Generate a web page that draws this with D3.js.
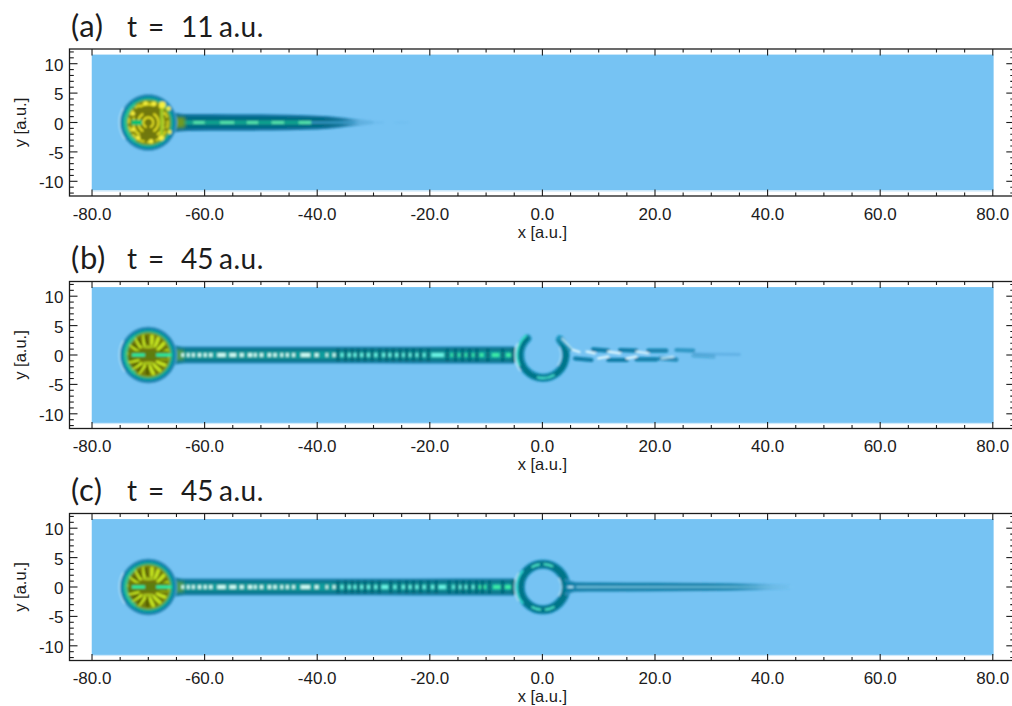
<!DOCTYPE html>
<html><head><meta charset="utf-8">
<script src="https://cdn.jsdelivr.net/npm/d3@7/dist/d3.min.js"></script>
<style>html,body{margin:0;padding:0;background:#fff;overflow:hidden}svg{display:block}</style>
</head><body><div id="c"></div>
<script>
// ---------- data (atomic units) ----------
const panelKeys = ["a","b","c"];
const panelLetters = ["(a)","(b)","(c)"];
const panelTimes = [["t ","= ","11 ","a.u."],["t ","= ","45 ","a.u."],["t ","= ","45 ","a.u."]];
const xMajor = [-80,-60,-40,-20,0,20,40,60,80];
const xLabels = ["-80.0","-60.0","-40.0","-20.0","0.0","20.0","40.0","60.0","80.0"];
const xMinor = [-75,-70,-65,-55,-50,-45,-35,-30,-25,-15,-10,-5,5,10,15,25,30,35,45,50,55,65,70,75];
const yMajor = [-10,-5,0,5,10];
const yMinor = [-12,-11,-9,-8,-7,-6,-4,-3,-2,-1,1,2,3,4,6,7,8,9,11,12];
// tail half widths
const tailAX = [-67.5,-66.5,-65.5,-64.5,-63,-55,-48,-42,-38,-36,-34,-32,-30];
const tailAW = [3.3,2.5,1.8,1.55,1.45,1.42,1.38,1.25,1.05,.9,.7,.5,.3];
const tailBX = [-67.5,-66.5,-65.5,-64.5,-63.5,-50,-30,-15,-5];
const tailBW = [3.3,2.5,1.8,1.55,1.45,1.45,1.45,1.5,1.5];
const tailCRX = [4,5,6,10,20,30,36,40,44];
const tailCRW = [1.5,1.05,.85,.8,.75,.66,.58,.5,.42];
// beads [x, width] on the tail
const beadsLeft = [[-63.9,.5],[-62.9,.5],[-62,.5],[-60.9,.6],[-59.9,.55],[-58.9,.6],[-57,1.5],[-55,1.2],[-53.4,.7],[-51.9,.8],[-51,.5],[-49.9,.6],[-48.5,.6],[-47.5,.6],[-46.3,.5],[-45.3,.5],[-44.2,.5],[-42.1,1.7],[-40.1,.7],[-38.3,.4],[-37,.5],[-35.6,.5]];
const beadsB = [[-34.3,.5],[-33.3,.5],[-32.1,.5],[-30.9,.5],[-29.6,.5],[-28.2,.5],[-27.1,.5],[-25.9,.5],[-24.7,.4],[-23.5,.4],[-22.3,.4],[-21,.4],[-18.6,2.2],[-16.1,.35],[-14.8,.35],[-13.6,.35],[-12.3,.35],[-10.8,.7],[-8.3,1.3],[-6,.9]];
const beadsC = [[-34.3,.5],[-33.3,.5],[-32.1,.5],[-30.9,.5],[-29.6,.5],[-28,1.2],[-26.2,.5],[-24.7,.5],[-23.5,.5],[-22.3,.5],[-21,.5],[-19.5,.5],[-17.8,1.3],[-15.8,.4],[-14.6,.4],[-13.6,.4],[-12.3,.4],[-11.1,.4],[-10.2,.4],[-8.1,1.3],[-6,1.3]];
const beadsA = [[-61,2],[-56,2.5],[-51.5,2],[-47,2.2],[-42.2,2.2]];
// braid in panel (b): segments x1,y1,x2,y2,opacity
const braidDark = [[5.8,-.6,8.7,-.85,1],[9,.96,11.7,.74,1],[11.7,-.85,15,-.85,1],[13.8,.85,16.7,.74,1],[16.7,-.74,20.3,-.74,.95],[18.8,.74,22,.74,.9],[20.9,-.6,23.8,-.8,.8],[23.8,.85,26.8,.74,.6],[26.8,-.1,30.4,-.28,.3]];
const braidLight = [[4.6,1.1,6.6,.5,1],[7.85,.57,9.3,.28,1],[9.9,-.57,11.7,-.28,1],[11.7,.57,13.8,.28,1],[15,-.57,16.7,-.28,1],[16.7,.57,18.8,.28,.9],[21.2,-.57,23.2,-.28,.7]];
const braidFaint = [[27,.2,35,.1]];
// disc details
const spokeAngles = [18,38,60,84,106,128,150,172,200,222,244,268,292,316,340];
const arcsA = [[.9,20,340],[1.8,30,150],[1.8,210,330],[2.7,35,110],[2.7,250,325],[3.2,150,200]];
const blobsA = [[-67.5,3,.6],[-66.4,2.4,.4],[-67.7,-2.6,.5],[-66.2,-1.6,.35],[-69,3.2,.4],[-70.5,3.3,.35],[-71.8,-2.6,.4],[-69.5,-3.2,.4],[-72.7,-1.2,.35],[-72.7,1.5,.35],[-67.4,1.5,.3],[-67.4,-.9,.3]];

// ---------- layout ----------
const W=1012,H=706;
const tops=[49,281.5,513.5];
const x=d3.scaleLinear().domain([-84,84]).range([69.5,1015.3]);
const sx=v=>x(v)-x(0);
const svg=d3.select("#c").append("svg").attr("width",W).attr("height",H).attr("viewBox",`0 0 ${W} ${H}`);
const defs=svg.append("defs");
[["b10",1],["b14",1.4]].forEach(([id,s])=>{
  defs.append("filter").attr("id",id).attr("filterUnits","userSpaceOnUse").attr("x",-1100).attr("y",-800).attr("width",2400).attr("height",1700)
    .append("feGaussianBlur").attr("stdDeviation",s);
});
function discGradient(id){
  const g=defs.append("radialGradient").attr("id",id);
  [[0,"#6f7408"],[.70,"#727a0a"],[.745,"#88a018"],[.80,"#1cb078"],[.86,"#0898a4"],[.93,"#0f7cac"],[.985,"#4aa4d2"],[1,"#76c3f3"]]
    .forEach(([o,c])=>g.append("stop").attr("offset",o).attr("stop-color",c));
}
discGradient("disc");

function fade(id,x0,x1,stops,color){
  const g=defs.append("linearGradient").attr("id",id).attr("gradientUnits","userSpaceOnUse")
    .attr("x1",x(x0)).attr("x2",x(x1)).attr("y1",0).attr("y2",0);
  stops.forEach(([o,a])=>g.append("stop").attr("offset",o).attr("stop-color",color).attr("stop-opacity",a));
  return `url(#${id})`;
}

panelKeys.forEach((key,pi)=>{
  const top=tops[pi];
  const y=d3.scaleLinear().domain([-12.5,12.5]).range([top+147,top]);
  const g=svg.append("g");
  const sy=v=>y(0)-y(v);

  g.append("rect").attr("x",x(-80.05)).attr("y",y(11.55)).attr("width",x(80.15)-x(-80.05)).attr("height",y(-11.55)-y(11.55)).attr("fill","#76c3f3");
  g.append("rect").attr("x",x(-80.05)).attr("y",y(-11.55)).attr("width",x(80.15)-x(-80.05)).attr("height",1.2).attr("fill","#cfe9fa");
  const img=g.append("g").attr("filter","url(#b10)");

  const area=(xs,ws,k)=>d3.area().x((d,i)=>x(xs[i])).y0((d,i)=>y(ws[i]*k)).y1((d,i)=>y(-ws[i]*k)).curve(d3.curveMonotoneX)(xs);

  // ---- tails ----
  if(key==="a"){
    const f1=fade("fa1",-67,-27,[[0,1],[.72,1],[.8,.7],[.87,.2],[1,0]],"#1274a2");
    const f2=fade("fa2",-67,-27,[[0,1],[.68,1],[.77,.6],[.83,.1],[1,0]],"#046a84");
    img.append("path").attr("d",area(tailAX,tailAW,1)).attr("fill",f1);
    img.append("path").attr("d",area(tailAX,tailAW,.7)).attr("fill",f2);
    img.append("rect").attr("x",x(-66)).attr("width",x(-41)-x(-66)).attr("y",y(.36)).attr("height",sy(.72)).attr("fill","#0fa08e");
    img.append("rect").attr("x",x(-42)).attr("width",x(-33)-x(-42)).attr("y",y(.16)).attr("height",sy(.32)).attr("fill","#3a9ccc");
    img.selectAll(null).data(beadsA).join("rect").attr("x",d=>x(d[0]-d[1]/2)).attr("width",d=>sx(d[1])).attr("y",y(.2)).attr("height",sy(.4)).attr("fill","#60f0b0");
    img.append("rect").attr("x",x(-66.5)).attr("width",sx(3)).attr("y",y(.9)).attr("height",sy(1.8)).attr("fill","#6f9a20").attr("filter","url(#b14)");
    img.selectAll(null).data([[-32,.3],[-29.5,.25],[-25,.12]]).join("ellipse").attr("cx",d=>x(d[0])).attr("cy",y(0)).attr("rx",d=>sx(1.5)).attr("ry",d=>sy(d[1])).attr("fill","#68b6e8").attr("opacity",.45);
  } else {
    img.append("path").attr("d",area(tailBX,tailBW,1)).attr("fill","#2388b4");
    img.append("path").attr("d",area(tailBX,tailBW,.8)).attr("fill","#08788c");
    img.append("rect").attr("x",x(-66)).attr("width",x(-5)-x(-66)).attr("y",y(.62)).attr("height",sy(1.24)).attr("fill","#0a9c9c");
    img.append("rect").attr("x",x(-66.5)).attr("width",sx(2.8)).attr("y",y(.9)).attr("height",sy(1.8)).attr("fill","#4f9a50").attr("filter","url(#b14)");
    const rightB = key==="b"?beadsB:beadsC;
    const all = beadsLeft.concat(rightB);
    const gaps = d3.pairs(all).filter(p=>p[0][0]>-38).map(p=>(p[0][0]+p[0][1]/2+p[1][0]-p[1][1]/2)/2);
    img.selectAll(null).data(gaps).join("rect").attr("x",d=>x(d-.3)).attr("width",sx(.6)).attr("y",y(1.15)).attr("height",sy(2.3)).attr("fill","#065e70").attr("opacity",.7);
    img.selectAll(null).data(all).join("rect").attr("x",d=>x(d[0]-d[1]/2)).attr("width",d=>sx(d[1])).attr("y",y(.3)).attr("height",sy(.6))
      .attr("fill",d=>d[0]<-36?"#d8fff8":(d[0]<-17||key==="c"&&d[0]<-12)?"#70f8e8":"#40f0a8");
    img.append("rect").attr("x",x(-5.6)).attr("width",sx(.8)).attr("y",y(1.25)).attr("height",sy(2.5)).attr("fill","#08707f");
  }

  // ---- ring / open ring ----
  const cx=x(.1), cy=y(0);
  const pr=v=>sx(v);
  const rad=a=>a*Math.PI/180;
  const ring=img.append("g").attr("transform",`translate(${cx},${cy})`);
  if(key==="c"){
    const f1=fade("fc1",4,45,[[0,1],[.72,1],[.82,.6],[.9,.2],[1,0]],"#2a8db8");
    const f2=fade("fc2",4,45,[[0,1],[.62,1],[.75,.55],[.85,.1],[1,0]],"#0a80a8");
    const f3=fade("fc3",5,45,[[0,.8],[.7,.7],[.9,.3],[1,0]],"#9cdcf2");
    img.append("path").attr("d",area(tailCRX,tailCRW,1)).attr("fill",f1);
    img.append("path").attr("d",area(tailCRX,tailCRW,.72)).attr("fill",f2);
    img.append("rect").attr("x",x(6)).attr("width",x(45)-x(6)).attr("y",y(.14)).attr("height",sy(.28)).attr("fill",f3);
    const arc=d3.arc();
    ring.append("path").attr("d",arc({innerRadius:pr(4.85),outerRadius:pr(5.1),startAngle:rad(240),endAngle:rad(300)})).attr("fill","#d0f4ff");
    ring.append("circle").attr("r",pr(4.05)).attr("fill","none").attr("stroke","#1f8db8").attr("stroke-width",pr(1.7));
    ring.append("circle").attr("r",pr(4.05)).attr("fill","none").attr("stroke","#067488").attr("stroke-width",pr(1.15));
    const dashes=[[-30,-8],[2,26],[150,175],[185,210]];
    dashes.forEach(([a,b])=>ring.append("path").attr("d",arc({innerRadius:pr(3.9),outerRadius:pr(4.2),startAngle:rad(a),endAngle:rad(b)})).attr("fill","#50f0d0"));
    ring.append("path").attr("d",arc({innerRadius:pr(4.45),outerRadius:pr(4.8),startAngle:rad(230),endAngle:rad(310)})).attr("fill","#30dcd4");
    ring.append("path").attr("d",arc({innerRadius:pr(3.12),outerRadius:pr(3.33),startAngle:rad(60),endAngle:rad(120)})).attr("fill","#d0f4ff").attr("opacity",.8);
    img.selectAll(null).data([[3.9,.6],[3.9,-.6]]).join("ellipse").attr("cx",d=>x(d[0])).attr("cy",d=>y(d[1])).attr("rx",2.6).attr("ry",1.8).attr("fill","#067890");
    img.selectAll(null).data([[5,0]]).join("ellipse").attr("cx",d=>x(d[0])).attr("cy",d=>y(d[1])).attr("rx",3.5).attr("ry",1).attr("fill","#b0e6f8");
  }
  if(key==="b"){
    const arc=d3.arc().cornerRadius(4);
    const a0=rad(38), a1=rad(327);
    ring.append("path").attr("d",arc({innerRadius:pr(3.3),outerRadius:pr(4.8),startAngle:a0,endAngle:a1})).attr("fill","#1d92ba");
    ring.append("path").attr("d",arc({innerRadius:pr(3.62),outerRadius:pr(4.55),startAngle:a0+.08,endAngle:a1-.08})).attr("fill","#067488");
    ring.append("path").attr("d",d3.arc()({innerRadius:pr(3.95),outerRadius:pr(4.25),startAngle:rad(150),endAngle:rad(195)})).attr("fill","#48ecd8");
    ring.append("path").attr("d",d3.arc()({innerRadius:pr(4.4),outerRadius:pr(4.75),startAngle:rad(245),endAngle:rad(320)})).attr("fill","#34e4cc");
    ring.append("path").attr("d",d3.arc()({innerRadius:pr(4.85),outerRadius:pr(5.05),startAngle:rad(235),endAngle:rad(295)})).attr("fill","#d0f4ff");
    ring.append("path").attr("d",d3.arc()({innerRadius:pr(3.1),outerRadius:pr(3.3),startAngle:rad(65),endAngle:rad(125)})).attr("fill","#d0f4ff").attr("opacity",.7);
    const seg=(s,col,w)=>img.append("line").attr("x1",x(s[0])).attr("y1",y(s[1])).attr("x2",x(s[2])).attr("y2",y(s[3])).attr("stroke",col).attr("stroke-width",w).attr("stroke-linecap","round").attr("stroke-opacity",s[4]==null?1:s[4]);
    braidFaint.forEach(s=>seg(s,"#62b2e6",3));
    braidDark.forEach(s=>seg(s,"#0a7ca6",4.2));
    braidLight.forEach(s=>seg(s,"#e4faff",2.2));
    seg([2.9,3,5,1,1],"#1a98c0",4);
    seg([3.5,2.8,5.4,.9,1],"#d8f8ff",1.2);
  }

  // ---- source disc ----
  const d=img.append("g").attr("transform",`translate(${x(-70)},${y(0)})`);
  const R=pr(5.12);
  d.append("circle").attr("r",R).attr("fill","url(#disc)");
  d.append("path").attr("d",d3.arc()({innerRadius:R-.1,outerRadius:R+.7,startAngle:rad(235),endAngle:rad(300)})).attr("fill","#d0f4ff");
  d.append("path").attr("d",d3.arc()({innerRadius:pr(3.7),outerRadius:pr(4.3),startAngle:rad(215),endAngle:rad(325)})).attr("fill","#28d0a8").attr("opacity",.6);
  const inner=d.append("g");
  const pol=(r,a)=>[pr(r)*Math.sin(rad(a)),-pr(r)*Math.cos(rad(a))];
  if(key==="a"){
    arcsA.forEach(([r,a,b])=>{
      inner.append("path").attr("d",d3.arc()({innerRadius:pr(r-.2),outerRadius:pr(r+.2),startAngle:rad(a+180),endAngle:rad(b+180)})).attr("fill","#e0dc24");
    });
    inner.append("circle").attr("r",pr(3.45)).attr("fill","none").attr("stroke","#d8d622").attr("stroke-width",2).attr("stroke-dasharray","6 2.5");
    img.selectAll(null).data(blobsA).join("circle").attr("cx",b=>x(b[0])).attr("cy",b=>y(b[1])).attr("r",b=>pr(b[2])).attr("fill","#f8f040");
    img.append("rect").attr("x",x(-67.9)).attr("width",sx(.6)).attr("y",y(2.4)).attr("height",sy(4.6)).attr("fill","#a0c828");
    img.append("rect").attr("x",x(-73)).attr("width",sx(1.9)).attr("y",y(.45)).attr("height",sy(.9)).attr("fill","#10c070");
  } else {
    spokeAngles.forEach(a=>{
      const p0=pol(2.05,a),p1=pol(3.4,a+(a<180?-7:7));
      inner.append("line").attr("x1",p0[0]).attr("y1",p0[1]).attr("x2",p1[0]).attr("y2",p1[1]).attr("stroke","#c4e420").attr("stroke-width",3.6).attr("stroke-linecap","round");
      const q0=pol(2.0,a+11),q1=pol(3.55,a+11);
      inner.append("line").attr("x1",q0[0]).attr("y1",q0[1]).attr("x2",q1[0]).attr("y2",q1[1]).attr("stroke","#4c5600").attr("stroke-width",2.2);
    });
    inner.append("rect").attr("x",-pr(3.5)).attr("width",pr(7)).attr("y",-pr(.75)).attr("height",pr(1.5)).attr("fill","#5f7c08");
    img.selectAll(null).data([[-72.9,-70.6],[-68.6,-65.9]]).join("rect").attr("x",b=>x(b[0])).attr("width",b=>x(b[1])-x(b[0])).attr("y",y(.26)).attr("height",sy(.52)).attr("fill","#20f0a8");
    img.selectAll(null).data([[1.35],[-1.35]]).join("ellipse").attr("cx",x(-70)).attr("cy",b=>y(b[0])).attr("rx",sx(1.1)).attr("ry",sy(.25)).attr("fill","#a8c81c");
  }

  // ---- frame and ticks ----
  const ink="#1c1c1c";
  const frame=g.append("g");
  const tick=(x1,y1,x2,y2)=>frame.append("line").attr("x1",x1).attr("y1",y1).attr("x2",x2).attr("y2",y2).attr("stroke",ink).attr("stroke-width",1.1);
  const yt=y(12.5), yb=y(-12.5), xl=x(-84), xr=x(84);
  frame.append("rect").attr("x",xl).attr("y",yt).attr("width",xr-xl).attr("height",yb-yt).attr("fill","none").attr("stroke",ink).attr("stroke-width",1.3);
  xMajor.forEach(v=>{tick(x(v),yb,x(v),yb-6.5);tick(x(v),yt,x(v),yt+6.5);});
  xMinor.forEach(v=>{tick(x(v),yb,x(v),yb-3.5);tick(x(v),yt,x(v),yt+3.5);});
  yMajor.forEach(v=>{tick(xl,y(v),xl+8,y(v));tick(xr,y(v),xr-9,y(v));});
  yMinor.forEach(v=>{tick(xl,y(v),xl+4.3,y(v));tick(xr,y(v),xr-5,y(v));});

  const font="'Liberation Sans',Arial,sans-serif";
  xMajor.forEach((v,i)=>g.append("text").attr("x",x(v)).attr("y",yb+23.5).attr("text-anchor","middle").attr("font-family",font).attr("font-size",17).attr("fill",ink).text(xLabels[i]));
  yMajor.forEach(v=>g.append("text").attr("x",xl-6).attr("y",y(v)+7).attr("text-anchor","end").attr("font-family",font).attr("font-size",17).attr("fill",ink).text(v));
  g.append("text").attr("x",x(0)).attr("y",yb+41.5).attr("text-anchor","middle").attr("font-family",font).attr("font-size",16.5).attr("fill",ink).text("x [a.u.]");
  g.append("text").attr("transform",`translate(26,${y(0)}) rotate(-90)`).attr("text-anchor","middle").attr("font-family",font).attr("font-size",16.5).attr("fill",ink).text("y [a.u.]");
  const tf="'Lato','Noto Sans',sans-serif";
  g.append("text").attr("x",71).attr("y",top-12.5).attr("font-family",tf).attr("font-size",31).attr("fill",ink).attr("letter-spacing",.6).text(panelLetters[pi]);
  const tt=g.append("text").attr("y",top-12.5).attr("font-family",tf).attr("font-size",28).attr("fill",ink);
  const offs=[127,148,181,219];
  panelTimes[pi].forEach((s,i)=>tt.append("tspan").attr("x",offs[i]).attr("letter-spacing",i===3?.5:0).text(s));
});
</script></body></html>
